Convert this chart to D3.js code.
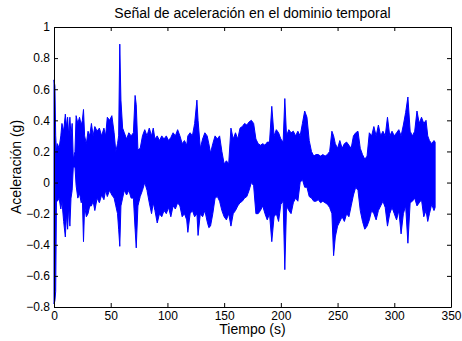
<!DOCTYPE html>
<html>
<head>
<meta charset="utf-8">
<script src="https://cdn.jsdelivr.net/npm/d3@7"></script>
<style>
  body { margin: 0; background: #fff; }
  text { font-family: "Liberation Sans", Arial, sans-serif; }
</style>
</head>
<body>
<svg id="chart"></svg>
<script>
// envelope of the signal: time (s), upper and lower acceleration (g)
var times = [0, 0.8, 1.5, 2.2, 3, 4.5, 6, 7, 8.5, 10, 11, 12, 13, 14, 15, 16, 17, 18.5, 19.5, 21, 22.5, 24, 25, 26, 27, 28.5, 30, 31.5, 33, 34.5, 36, 38, 40, 42, 44, 45.5, 47, 49, 51, 53, 54.5, 56, 57, 58, 59, 60.5, 62, 64, 66, 68, 70, 71.5, 72.5, 74, 76, 78, 80, 82, 84, 86, 87.5, 89, 91, 93, 95, 97, 99, 101, 103, 105, 107, 109, 111, 113, 115, 117, 118, 120, 122, 124, 126, 127, 129, 131, 133, 135, 136.5, 138, 140, 142, 144, 146, 148, 150, 152, 154, 156, 158, 160, 162, 164, 166, 168, 170, 172, 174, 176, 178, 180, 182, 184, 186, 188, 190, 192, 194, 196, 198, 200, 202, 203.5, 205, 207, 209, 211, 213, 215, 217, 219, 221, 223, 225, 227, 229, 231, 233, 235, 237, 239, 241, 243, 245, 246.5, 248, 250, 252, 254, 256, 258, 260, 262, 264, 266, 268, 270, 272, 274, 276, 278, 280, 282, 284, 286, 288, 290, 292, 294, 296, 298, 300, 302, 304, 306, 308, 310, 312, 314, 316, 318, 320, 322, 324, 326, 328, 329.5, 331, 333, 335, 336];
var upper = [0.66, 0.62, 0.3, 0.2, 0.25, 0.22, 0.3, 0.38, 0.33, 0.44, 0.36, 0.42, 0.3, 0.42, 0.3, 0.38, 0.15, 0.2, 0.43, 0.38, 0.42, 0.37, 0.4, 0.47, 0.3, 0.25, 0.33, 0.3, 0.38, 0.3, 0.36, 0.33, 0.35, 0.3, 0.35, 0.3, 0.42, 0.4, 0.43, 0.32, 0.2, 0.25, 0.3, 0.89, 0.53, 0.35, 0.32, 0.28, 0.32, 0.3, 0.32, 0.56, 0.5, 0.21, 0.22, 0.3, 0.34, 0.3, 0.35, 0.3, 0.35, 0.28, 0.3, 0.27, 0.3, 0.28, 0.3, 0.27, 0.29, 0.32, 0.3, 0.34, 0.3, 0.25, 0.27, 0.24, 0.3, 0.32, 0.3, 0.38, 0.53, 0.4, 0.22, 0.28, 0.32, 0.3, 0.25, 0.19, 0.25, 0.3, 0.28, 0.3, 0.2, 0.12, 0.14, 0.12, 0.35, 0.28, 0.32, 0.28, 0.35, 0.36, 0.38, 0.37, 0.39, 0.4, 0.38, 0.28, 0.25, 0.24, 0.25, 0.24, 0.26, 0.26, 0.49, 0.3, 0.34, 0.32, 0.28, 0.26, 0.54, 0.3, 0.34, 0.32, 0.33, 0.3, 0.33, 0.3, 0.38, 0.46, 0.42, 0.27, 0.2, 0.17, 0.18, 0.18, 0.17, 0.18, 0.17, 0.18, 0.2, 0.33, 0.3, 0.25, 0.22, 0.27, 0.22, 0.25, 0.26, 0.24, 0.22, 0.3, 0.32, 0.33, 0.22, 0.18, 0.15, 0.17, 0.32, 0.3, 0.36, 0.3, 0.37, 0.3, 0.33, 0.3, 0.42, 0.3, 0.33, 0.3, 0.32, 0.34, 0.3, 0.37, 0.45, 0.55, 0.33, 0.3, 0.33, 0.46, 0.38, 0.42, 0.38, 0.4, 0.3, 0.27, 0.25, 0.27, 0.26];
var lower = [-0.78, -0.76, -0.7, -0.1, -0.12, -0.1, -0.17, -0.12, -0.25, -0.35, -0.2, -0.3, -0.15, -0.28, -0.1, -0.05, 0.1, 0.1, -0.02, -0.1, -0.07, -0.13, -0.1, -0.38, -0.15, -0.22, -0.2, -0.15, -0.15, -0.12, -0.18, -0.1, -0.13, -0.08, -0.11, -0.05, -0.09, -0.05, -0.08, -0.1, -0.15, -0.2, -0.3, -0.41, -0.15, -0.1, -0.05, -0.08, -0.05, -0.1, -0.1, -0.3, -0.42, -0.15, -0.09, -0.05, 0.0, -0.05, -0.13, -0.2, -0.13, -0.18, -0.26, -0.2, -0.22, -0.18, -0.2, -0.16, -0.22, -0.15, -0.17, -0.13, -0.15, -0.22, -0.2, -0.24, -0.32, -0.2, -0.18, -0.22, -0.2, -0.34, -0.2, -0.22, -0.18, -0.25, -0.29, -0.28, -0.2, -0.1, -0.09, -0.12, -0.18, -0.22, -0.24, -0.2, -0.28, -0.2, -0.18, -0.15, -0.13, -0.12, -0.1, -0.09, -0.05, 0.0, -0.02, -0.2, -0.2, -0.18, -0.15, -0.2, -0.24, -0.2, -0.38, -0.22, -0.2, -0.25, -0.14, -0.12, -0.56, -0.15, -0.18, -0.2, -0.13, -0.1, -0.12, 0.0, 0.02, -0.03, -0.03, -0.09, -0.1, -0.12, -0.12, -0.11, -0.13, -0.12, -0.13, -0.14, -0.16, -0.2, -0.47, -0.35, -0.28, -0.25, -0.22, -0.25, -0.2, -0.22, -0.15, -0.08, -0.03, -0.05, -0.18, -0.25, -0.3, -0.28, -0.24, -0.18, -0.2, -0.24, -0.18, -0.15, -0.12, -0.16, -0.28, -0.2, -0.16, -0.2, -0.24, -0.18, -0.33, -0.2, -0.15, -0.39, -0.13, -0.12, -0.1, -0.15, -0.13, -0.11, -0.22, -0.18, -0.25, -0.2, -0.14, -0.18, -0.16];

var xTicks = [0, 50, 100, 150, 200, 250, 300, 350];
var yTicks = [-0.8, -0.6, -0.4, -0.2, 0, 0.2, 0.4, 0.6, 0.8, 1];

var width = 462, height = 341;
var plotLeft = 54, plotRight = 451, plotTop = 27, plotBottom = 307;

var svg = d3.select("#chart")
    .attr("width", width)
    .attr("height", height);

var x = d3.scaleLinear().domain([0, 350]).range([plotLeft, plotRight]);
var y = d3.scaleLinear().domain([-0.8, 1]).range([plotBottom, plotTop]);

var data = times.map(function(t, i) { return { t: t, hi: upper[i], lo: lower[i] }; });

// signal band
var area = d3.area()
    .x(function(d) { return x(d.t); })
    .y0(function(d) { return y(d.lo); })
    .y1(function(d) { return y(d.hi); });

svg.append("path")
    .datum(data)
    .attr("d", area)
    .style("fill", "#0000ff")
    .style("stroke", "#0000ff")
    .style("stroke-width", 1)
    .style("stroke-linejoin", "miter");

// matlab-like box with inward ticks
var fmt = function(d) { return d === 0 ? "0" : d3.format("")(d).replace("-", "\u2212"); };

svg.append("g")
    .attr("transform", "translate(0," + plotBottom + ")")
    .call(d3.axisBottom(x).tickValues(xTicks).tickSizeInner(-4).tickSizeOuter(0).tickPadding(4));
svg.append("g")
    .attr("transform", "translate(0," + plotTop + ")")
    .call(d3.axisTop(x).tickValues(xTicks).tickSizeInner(-4).tickSizeOuter(0).tickFormat(""));
svg.append("g")
    .attr("transform", "translate(" + plotLeft + ",0)")
    .call(d3.axisLeft(y).tickValues(yTicks).tickSizeInner(-4).tickSizeOuter(0).tickPadding(4).tickFormat(fmt));
svg.append("g")
    .attr("transform", "translate(" + plotRight + ",0)")
    .call(d3.axisRight(y).tickValues(yTicks).tickSizeInner(-4).tickSizeOuter(0).tickFormat(""));

svg.selectAll(".domain").style("stroke", "#000");
svg.selectAll(".tick line").style("stroke", "#000");
svg.selectAll(".tick text")
    .style("font-family", "'Liberation Sans', Arial, sans-serif")
    .style("font-size", "12px")
    .style("fill", "#000");

// title and axis labels
svg.append("text")
    .attr("x", (plotLeft + plotRight) / 2)
    .attr("y", 18)
    .attr("text-anchor", "middle")
    .style("font-size", "14px")
    .text("Señal de aceleración en el dominio temporal");

svg.append("text")
    .attr("x", (plotLeft + plotRight) / 2)
    .attr("y", 334)
    .attr("text-anchor", "middle")
    .style("font-size", "14px")
    .text("Tiempo (s)");

svg.append("text")
    .attr("transform", "translate(21," + ((plotTop + plotBottom) / 2) + ") rotate(-90)")
    .attr("text-anchor", "middle")
    .style("font-size", "14px")
    .text("Aceleración (g)");
</script>
</body>
</html>
